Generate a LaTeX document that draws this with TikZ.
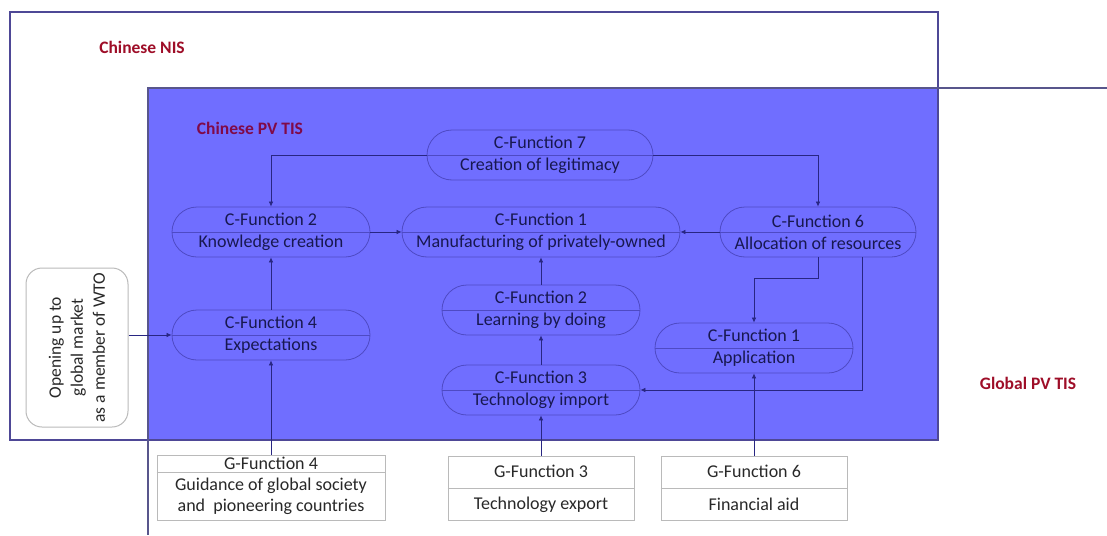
\documentclass[tikz,border=0pt]{standalone}
\usepackage{fontspec}
\setmainfont{Carlito}
\usetikzlibrary{arrows.meta, calc}

\definecolor{tisblue}{RGB}{112,110,255}
\definecolor{nisline}{RGB}{78,72,150}
\definecolor{globline}{RGB}{88,86,140}
\definecolor{pillline}{RGB}{78,74,196}
\definecolor{connline}{RGB}{40,38,130}
\definecolor{pilltext}{RGB}{24,24,80}
\definecolor{labelred}{RGB}{158,14,40}
\definecolor{labelplum}{RGB}{128,10,72}
\definecolor{boxgray}{RGB}{186,186,186}
\definecolor{boxtext}{RGB}{40,40,40}

\begin{document}
\begin{tikzpicture}[x=1pt, y=-1pt,
  cfun/.style={draw=pillline, line width=0.8pt, rounded corners=25pt, minimum width=198pt, minimum height=50pt, inner sep=0pt, text=pilltext, align=center, font=\fontsize{18}{22}\selectfont},
  divider/.style={draw=pillline, line width=0.8pt},
  gfun/.style={draw=boxgray, line width=1pt, fill=white, minimum width=186pt, minimum height=64pt, inner sep=0pt},
  gtxt/.style={text=boxtext, align=center, inner sep=0pt, font=\fontsize{18}{21}\selectfont},
  syslabel/.style={text=labelred, font=\fontsize{17.5}{21}\selectfont\bfseries},
  conn/.style={draw=connline, line width=0.7pt, -{Latex[length=5pt,width=4.5pt]}}
]
% Columns and rows (pixel units)
\pgfmathsetmacro{\colL}{271}
\pgfmathsetmacro{\colM}{541}
\pgfmathsetmacro{\colR}{754}
\pgfmathsetmacro{\rowTop}{232}

\useasboundingbox (0,0) rectangle (1107,535);
\fill[white] (0,0) rectangle (1107,535);

% Draw systems
\fill[tisblue] (148,88) rectangle (938,440);
\draw[nisline, line width=1.2pt] (10,12) rectangle (938,440);
\draw[globline, line width=1.2pt] (1107,88) -- (148,88) -- (148,535);
\node[syslabel] (nis) at (142,47) {Chinese NIS};
\node[syslabel, text=labelplum] (pvtis) at (250,128) {Chinese PV TIS};
\node[syslabel] (globtis) at (1028,383) {Global PV TIS};

% Chinese functions
\node[cfun, minimum width=226pt] (c7) at (540,155) {C-Function 7\\Creation of legitimacy};
\node[cfun] (c2k) at (\colL,\rowTop) {C-Function 2\\Knowledge creation};
\node[cfun, minimum width=278pt] (c1m) at (\colM,\rowTop) {C-Function 1\\Manufacturing of privately-owned};
\node[cfun, minimum width=196pt] (c6) at (818,\rowTop) {C-Function 6\\Allocation of resources};
\node[cfun] (c4) at (\colL,335) {C-Function 4\\Expectations};
\node[cfun] (c2l) at (\colM,310) {C-Function 2\\Learning by doing};
\node[cfun] (c1a) at (\colR,348) {C-Function 1\\Application};
\node[cfun] (c3) at (\colM,390) {C-Function 3\\Technology import};
\foreach \n in {c7,c2k,c1m,c6,c4,c2l,c1a,c3}
  \draw[divider] (\n.west) -- (\n.east);

% WTO box
\node[draw=boxgray, line width=1pt, fill=white, rounded corners=16pt, minimum width=159pt, minimum height=102pt, rotate=90, text=boxtext, align=center, font=\fontsize{17.5}{22}\selectfont] (wto) at (77,347.5) {Opening up to\\global market\\as a member of WTO};

% Global functions
\node[gfun, minimum width=228pt, minimum height=65pt] (g4) at (\colL,487.5) {};
\draw[draw=boxgray, line width=1pt] ($(g4.north west)+(0,18)$) -- ($(g4.north east)+(0,18)$);
\node[gtxt] (g4a) at ($(g4.north)+(0,9)$) {G-Function 4};
\node[gtxt] (g4b) at ($(g4.south)+(0,-24)$) {Guidance of global society\\and~ pioneering countries};
\node[gfun] (g3) at (\colM,488) {};
\draw[draw=boxgray, line width=1pt] (g3.west) -- (g3.east);
\node[gtxt] (g3a) at ($(g3.north)+(0,16)$) {G-Function 3};
\node[gtxt] (g3b) at ($(g3.south)+(0,-16)$) {Technology export};
\node[gfun] (g6) at (\colR,488) {};
\draw[draw=boxgray, line width=1pt] (g6.west) -- (g6.east);
\node[gtxt] (g6a) at ($(g6.north)+(0,16)$) {G-Function 6};
\node[gtxt] (g6b) at ($(g6.south)+(0,-16)$) {Financial aid};

% Draw links
\draw[conn] (c7.west) -| (c2k.north);
\draw[conn] (c7.east) -| (c6.north);
\draw[conn] (c2k.east) -- (c1m.west);
\draw[conn] (c6.west) -- (c1m.east);
\draw[conn] (c4.north) -- (c2k.south);
\draw[conn] (c2l.north) -- (c1m.south);
\draw[conn] (c3.north) -- (c2l.south);
\draw[conn] (c6.south) -- ++(0,21) -| (c1a.north);
\draw[conn] ([xshift=44pt]c6.south) |- (c3.east);
\draw[conn] (wto.south |- c4.west) -- (c4.west);
\draw[conn] (g4.north) -- (c4.south);
\draw[conn] (g3.north) -- (c3.south);
\draw[conn] (g6.north) -- (c1a.south);

\end{tikzpicture}
\end{document}
